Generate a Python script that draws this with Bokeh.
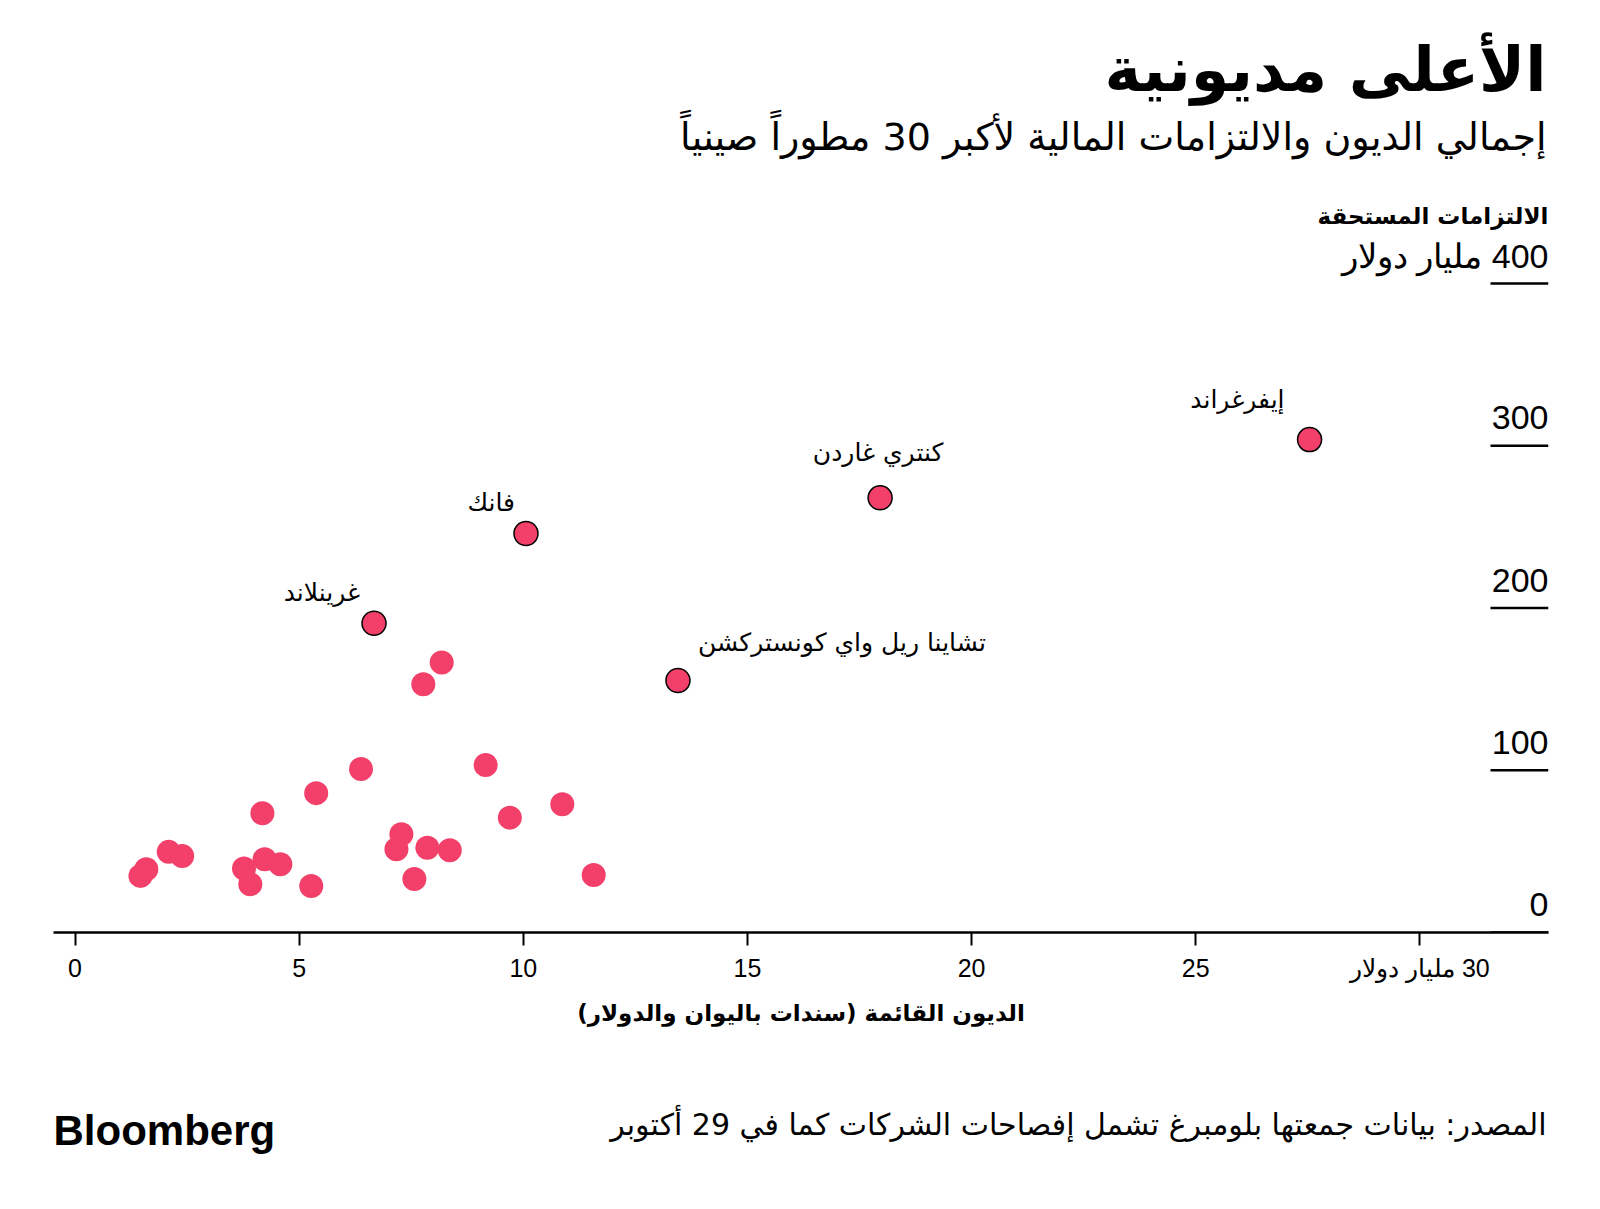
from bokeh.plotting import figure
from bokeh.models import Range1d, FixedTicker, Label
from bokeh.layouts import column
from bokeh.core.properties import value
from bokeh.embed import file_html
from bokeh.resources import INLINE

RLE, PDF = "\u202B", "\u202C"


def rtl(s):
    return RLE + s + PDF


# ---------------- data ----------------
title_text = "الأعلى مديونية"
subtitle_text = "إجمالي الديون والالتزامات المالية لأكبر 30 مطوراً صينياً"
y_title_text = "الالتزامات المستحقة"
x_title_text = "الديون القائمة (سندات باليوان والدولار)"
source_text = "المصدر: بيانات جمعتها بلومبرغ تشمل إفصاحات الشركات كما في 29 أكتوبر"
unit_text = "مليار دولار"

labeled_names = ["إيفرغراند", "كنتري غاردن", "فانك", "غرينلاند", "تشاينا ريل واي كونستركشن"]
labeled_debt = [27.54, 17.96, 10.06, 6.67, 13.45]
labeled_liab = [303.8, 267.9, 245.9, 190.6, 155.3]

other_debt = [8.18, 7.77, 6.38, 5.38, 9.16, 10.87, 9.70, 7.28, 7.17, 7.86, 8.36, 7.57,
              11.57, 5.27, 2.09, 2.39, 1.59, 1.46, 3.77, 3.91, 4.23, 4.58, 4.18]
other_liab = [166.4, 153.0, 100.8, 85.9, 103.3, 79.1, 70.8, 60.6, 51.3, 52.3, 50.7, 33.0,
              35.5, 28.7, 49.7, 47.2, 39.0, 34.9, 39.4, 29.8, 45.2, 42.1, 73.5]

x_ticks = [0, 5, 10, 15, 20, 25, 30]
y_ticks = [0, 100, 200, 300, 400]

# ---------------- styling / layout ----------------
PINK = "#F2406B"
AR_FONT = "DejaVu Sans"
NUM_FONT = "Liberation Sans"
W = 1600
H1, H2 = 1060, 149
ML, MR, MT = 53, 52, 0
FRAME_BOTTOM = 932
MB = H1 - FRAME_BOTTOM

# label placement (pixels relative to the point)
label_style = [
    ("right", -25, -40),
    ("center", -2, -45),
    ("right", -11, -31),
    ("right", -14, -31),
    ("left", 20, -38),
]

X_START, X_END = -0.48, 32.87
Y_END = FRAME_BOTTOM / 1.6224

p = figure(width=W, height=H1, output_backend="svg", toolbar_location=None,
           x_range=Range1d(X_START, X_END), y_range=Range1d(0, Y_END),
           min_border_left=ML, min_border_right=MR, min_border_top=MT, min_border_bottom=MB,
           y_axis_location=None)
p.xgrid.visible = False
p.ygrid.visible = False
p.outline_line_color = None
p.background_fill_color = "white"
p.border_fill_color = "white"

xa = p.xaxis[0]
xa.ticker = FixedTicker(ticks=x_ticks)
xa.major_label_overrides = {30: rtl(f"30 {unit_text}")}
xa.axis_line_width = 2.5
xa.axis_line_color = "black"
xa.major_tick_out = 13
xa.major_tick_in = 0
xa.major_tick_line_width = 2
xa.major_tick_line_color = "black"
xa.minor_tick_line_color = None
xa.major_label_text_font = NUM_FONT
xa.major_label_text_font_size = "25px"
xa.major_label_text_color = "black"
xa.major_label_standoff = 8
xa.axis_label = rtl(x_title_text)
xa.axis_label_text_font = AR_FONT
xa.axis_label_text_font_style = "bold"
xa.axis_label_text_font_size = "23px"
xa.axis_label_text_color = "black"
xa.axis_label_standoff = 15

# y ticks: short horizontal lines ending at the right edge of the frame
p.ray(x=[X_END] * len(y_ticks), y=y_ticks, length=58, length_units="screen",
      angle=180, angle_units="deg", line_width=2.5, line_color="black")

y_labels = [str(t) for t in y_ticks[:-1]] + [rtl(f"{y_ticks[-1]} {unit_text}")]
p.text(x=[X_END] * len(y_ticks), y=y_ticks, text=y_labels,
       text_align="right", text_baseline="middle", y_offset=-28,
       text_font=value(NUM_FONT), text_font_size="34px", text_color="black")

p.scatter(other_debt, other_liab, size=24, fill_color=PINK, line_color=None)
p.scatter(labeled_debt, labeled_liab, size=24, fill_color=PINK, line_color="black", line_width=1.5)

for name, xv, yv, (al, dx, dy) in zip(labeled_names, labeled_debt, labeled_liab, label_style):
    p.text(x=[xv], y=[yv], text=[rtl(name)], x_offset=dx, y_offset=dy,
           text_align=al, text_baseline="middle",
           text_font=value(AR_FONT), text_font_size="25px", text_color="black")


def scr(cx, cy):
    # canvas pixel -> frame-relative screen units
    return cx - ML, FRAME_BOTTOM - cy


tx, ty = scr(1546, 69)
p.add_layout(Label(x=tx, y=ty, x_units="screen", y_units="screen", text=rtl(title_text),
                   text_align="right", text_baseline="middle", text_font=AR_FONT,
                   text_font_style="bold", text_font_size="62px", text_color="black"))
tx, ty = scr(1546, 136)
p.add_layout(Label(x=tx, y=ty, x_units="screen", y_units="screen", text=rtl(subtitle_text),
                   text_align="right", text_baseline="middle", text_font=AR_FONT,
                   text_font_size="38px", text_color="black"))
tx, ty = scr(1548, 215)
p.add_layout(Label(x=tx, y=ty, x_units="screen", y_units="screen", text=rtl(y_title_text),
                   text_align="right", text_baseline="middle", text_font=AR_FONT,
                   text_font_style="bold", text_font_size="23px", text_color="black"))

# footer (its frame is aligned with the main frame by the column layout)
f = figure(width=W, height=H2, output_backend="svg", toolbar_location=None,
           x_range=Range1d(0, 1), y_range=Range1d(0, 1),
           min_border_left=ML, min_border_right=MR, min_border_top=0, min_border_bottom=0,
           x_axis_location=None, y_axis_location=None)
f.xgrid.visible = False
f.ygrid.visible = False
f.outline_line_color = None
f.add_layout(Label(x=1546 - ML, y=H2 - 64, x_units="screen", y_units="screen", text=rtl(source_text),
                   text_align="right", text_baseline="middle", text_font=AR_FONT,
                   text_font_size="30px", text_color="black"))
f.add_layout(Label(x=0, y=H2 - 70, x_units="screen", y_units="screen", text="Bloomberg",
                   text_align="left", text_baseline="middle", text_font=NUM_FONT,
                   text_font_style="bold", text_font_size="42px", text_color="black"))

open("out.html", "w").write(file_html(column(p, f), INLINE))
